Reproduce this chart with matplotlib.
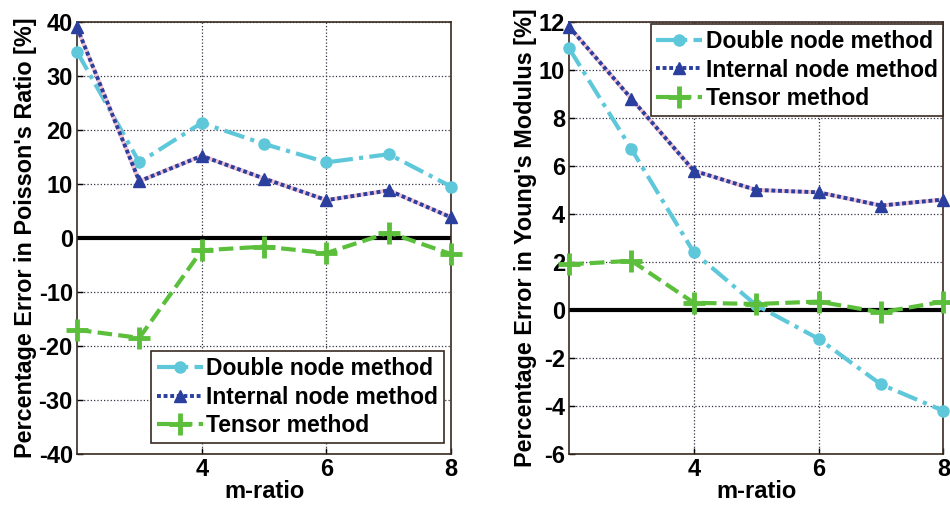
import matplotlib
matplotlib.use("Agg")
import matplotlib.pyplot as plt

plt.rcParams['font.family'] = ['Liberation Sans', 'DejaVu Sans']
plt.rcParams['font.weight'] = 'bold'
plt.rcParams['axes.unicode_minus'] = False

m_ratio = [2, 3, 4, 5, 6, 7, 8]

# Poisson's ratio error [%]
poisson_double = [34.5, 14.0, 21.3, 17.4, 14.0, 15.5, 9.5]
poisson_internal = [39.0, 10.5, 15.2, 11.0, 7.0, 8.8, 3.8]
poisson_tensor = [-17.0, -18.5, -2.3, -1.6, -2.8, 1.0, -3.0]

# Young's modulus error [%]
young_double = [10.9, 6.7, 2.4, 0.2, -1.2, -3.1, -4.2]
young_internal = [11.8, 8.8, 5.8, 5.0, 4.9, 4.35, 4.6]
young_tensor = [1.9, 2.05, 0.3, 0.25, 0.35, -0.1, 0.35]

x_ticks = [4, 6, 8]
poisson_ticks = [-40, -30, -20, -10, 0, 10, 20, 30, 40]
young_ticks = [-6, -4, -2, 0, 2, 4, 6, 8, 10, 12]

labels = ["Double node method", "Internal node method", "Tensor method"]

c_double = "#5ec8da"
c_internal = "#2a3f9e"
c_tensor = "#5cbf3c"

fig = plt.figure(figsize=(9.5, 5.09), dpi=100)
ax1 = fig.add_axes([0.081, 0.108, 0.394, 0.849])
ax2 = fig.add_axes([0.599, 0.108, 0.394, 0.849])


def draw(ax, d, i, t, yticks, ylabel):
    ax.axhline(0, color="black", lw=3, zorder=2)
    ax.plot(m_ratio, d, color=c_double, ls=(0, (5, 1.5, 1, 1.5)), lw=3,
            marker="o", ms=8, label=labels[0], zorder=3, clip_on=False)
    # soft pink halo under the dotted line
    ax.plot(m_ratio, i, color="#f2c4d2", lw=3, zorder=3.5, clip_on=False)
    ax.plot(m_ratio, i, color=c_internal, ls=(0, (1, 0.7)), lw=2.8,
            marker="^", ms=8, label=labels[1], zorder=4, clip_on=False)
    ax.plot(m_ratio, t, color=c_tensor, ls=(0, (3.5, 1.5)), lw=3,
            marker="+", ms=16, mew=3.5, label=labels[2], zorder=3,
            clip_on=False)
    ax.set_xlim(2, 8)
    ax.set_ylim(yticks[0], yticks[-1])
    ax.set_xticks(x_ticks)
    ax.set_yticks(yticks)
    ax.grid(True, ls=":", color="#333344", lw=0.9)
    ax.tick_params(labelsize=17, direction="in", length=4, width=1,
                   pad=3)
    for lab in ax.get_xticklabels() + ax.get_yticklabels():
        lab.set_fontweight("bold")
    for s in ax.spines.values():
        s.set_linewidth(1.2)
        s.set_color("#3a2a20")
    ax.set_xlabel("m-ratio", fontsize=17, fontweight="bold", labelpad=-1)
    ax.set_ylabel(ylabel, fontsize=16.8, fontweight="bold", labelpad=1)


draw(ax1, poisson_double, poisson_internal, poisson_tensor, poisson_ticks,
     "Percentage Error in Poisson's Ratio [%]")
draw(ax2, young_double, young_internal, young_tensor, young_ticks,
     "Percentage Error in Young's Modulus [%]")

leg_kw = dict(fontsize=16.5, frameon=True, fancybox=False, framealpha=1,
              edgecolor="#3a2a20", handlelength=2.0, handletextpad=0.15,
              borderpad=0.25, labelspacing=0.25, borderaxespad=0.0)
l1 = ax1.legend(loc="lower right", bbox_to_anchor=(0.98, 0.025), **leg_kw)
l2 = ax2.legend(loc="upper right", bbox_to_anchor=(1.0, 0.995), **leg_kw)
for lg in (l1, l2):
    lg.get_frame().set_linewidth(1.2)
    lg.set_zorder(10)
    for txt in lg.get_texts():
        txt.set_fontweight("bold")

fig.savefig("out.png", dpi=100)
